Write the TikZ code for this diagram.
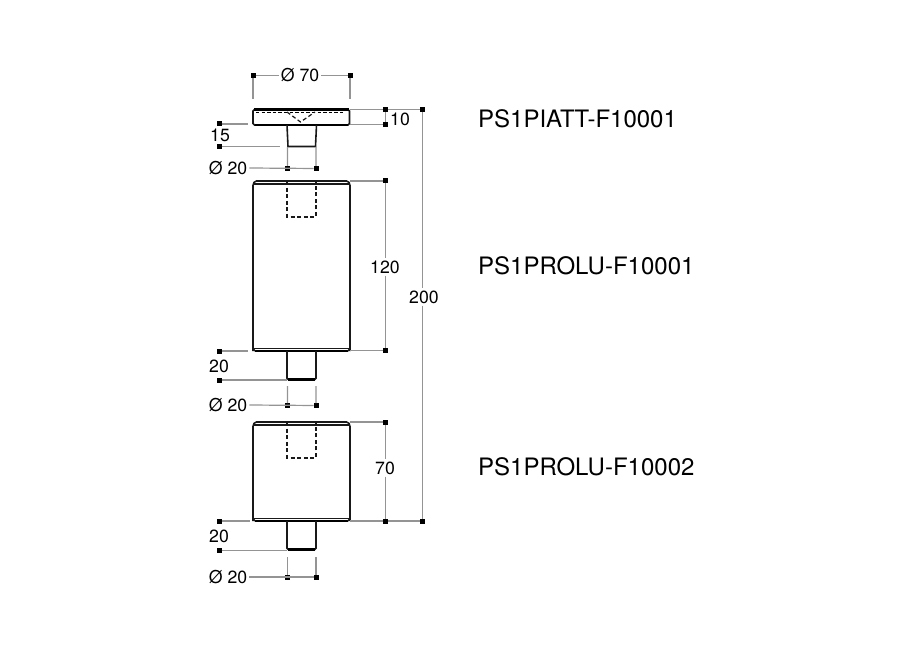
\documentclass[tikz,border=0pt]{standalone}
\usepackage{fontspec}
\setmainfont{TeX Gyre Heros}
\tikzset{
  dimdot/.style={fill=black,draw=none,minimum size=5pt,inner sep=0pt,outer sep=0pt,rectangle},
  dimline/.style={draw=black!42,line width=1.2pt},
  part/.style={draw=black!90,line width=1.6pt},
  heavy/.style={draw=black,line width=2.3pt},
  hidden/.style={draw=black!90,line width=1.2pt,dash pattern=on 4pt off 2.6pt},
  platehidden/.style={draw=black,line width=1.6pt,dash pattern=on 3.4pt off 2.2pt},
  dimtext/.style={font=\fontsize{17.7}{20}\selectfont,inner sep=2pt,text=black},
  codetext/.style={font=\fontsize{24}{26}\selectfont,anchor=west,inner sep=0pt,text=black}
}
\begin{document}
\begin{tikzpicture}[x=1pt,y=-1pt]
\useasboundingbox (0,0) rectangle (904,652);
% ---------- part codes
\node[codetext] (code1) at (478,118.5) {PS1PIATT-F10001};
\node[codetext] (code2) at (478,265.5) {PS1PROLU-F10001};
\node[codetext] (code3) at (478,467) {PS1PROLU-F10002};
% ---------- plate
\draw[part,rounded corners=1.5pt] (253,109.5) rectangle (349.5,125);
\draw[heavy] (254,109.5) -- (349,109.5);
\draw[heavy] (255,125) -- (348,125);
\draw[platehidden] (256,112.5) -- (345,112.5);
\draw[hidden] (287,112) -- (300.5,122) -- (315,112);
\draw[part] (287,125) -- (288,146.5) -- (315.5,146.5) -- (316.5,125);
% ---------- long body
\draw[part,rounded corners=1.5pt] (253,351) -- (253,184) -- (255,181) -- (348,181) -- (350,184) -- (350,351);
\draw[part] (253,184) -- (350,184);
\draw[hidden] (287,181) -- (287,217) -- (316,217) -- (316,181);
\draw[part] (253,348.5) -- (350,348.5);
\draw[heavy] (255,351) -- (348,351);
\draw[part] (253,348.5) -- (255,351);
\draw[part] (350,348.5) -- (348,351);
\draw[part,rounded corners=1.2pt] (287,351) -- (287,379.5) -- (316,379.5) -- (316,351);
\draw[heavy] (288,379.5) -- (315,379.5);
% ---------- short body
\draw[part,rounded corners=1.5pt] (253,521) -- (253,425) -- (255,422) -- (348,422) -- (350,425) -- (350,521);
\draw[part] (253,425) -- (350,425);
\draw[hidden] (287,422) -- (287,458) -- (316,458) -- (316,422);
\draw[part] (253,518.5) -- (350,518.5);
\draw[heavy] (255,521) -- (348,521);
\draw[part] (253,518.5) -- (255,521);
\draw[part] (350,518.5) -- (348,521);
\draw[part,rounded corners=1.2pt] (287,521) -- (287,549.5) -- (316,549.5) -- (316,521);
\draw[heavy] (288,549.5) -- (315,549.5);
% ---------- dimension labels
\node[dimtext] (t70) at (300,75.5) {Ø 70};
\node[dimtext] (t10) at (400,119) {10};
\node[dimtext] (t15) at (220,135.5) {15};
\node[dimtext] (t20a) at (228,168) {Ø 20};
\node[dimtext] (t120) at (385,267) {120};
\node[dimtext] (t200) at (424,297) {200};
\node[dimtext] (h20a) at (219,366) {20};
\node[dimtext] (t20b) at (228,405) {Ø 20};
\node[dimtext] (t70b) at (385,468) {70};
\node[dimtext] (h20b) at (219,536) {20};
\node[dimtext] (t20c) at (228,577) {Ø 20};
% ---------- dimension dots
\foreach \n/\x/\y in {a/253/75.5,b/350/75.5,c/385.5/109.5,d/385.5/124.5,e/422.5/109.5,
  f/219/124,g/219/146.5,h/287.5/168.5,i/316/168.5,
  j/385.5/181,k/385.5/350.5,l/219/351,m/219/380,n/287.5/405.5,o/316/405.5,
  p/385.5/422,q/385.5/521,r/422.5/521,s/219/521,t/219/550.5,u/287.5/577,v/316/577}
  {\node[dimdot] (\n) at (\x,\y) {};}
% ---------- free ends of the extension lines
\foreach \n/\x/\y in {a1/253/99,b1/350/99,c1/350/109.5,d1/350/124.5,
  f1/248/124,g1/280/146.5,h1/287.5/147,i1/316/147,
  j1/350/181,k1/350/350.5,l1/248/351,m1/287/380,n1/287.5/386,o1/316/386,
  p1/350/422,q1/350/521,s1/250/521,t1/287/550.5,u1/287.5/557,v1/316/557}
  {\coordinate (\n) at (\x,\y);}
% ---------- dimension lines
\draw[dimline] (a) -- (t70.west) (t70.east) -- (b);
\draw[dimline] (a) -- (a1) (b) -- (b1);
\draw[dimline] (c1) -- (c) (d1) -- (d) (c) -- (d);
\draw[dimline] (c) -- (e) (e) -- (e|-t200.north) (r|-t200.south) -- (r) -- (q);
\draw[dimline] (f) -- (f1) (g) -- (g1);
\draw[dimline] (t20a.east) -- (i) (h) -- (h1) (i) -- (i1);
\draw[dimline] (j1) -- (j) (j) -- (j|-t120.north) (k|-t120.south) -- (k) -- (k1);
\draw[dimline] (l) -- (l1) (m) -- (m1);
\draw[dimline] (t20b.east) -- (o) (n) -- (n1) (o) -- (o1);
\draw[dimline] (p1) -- (p) (p) -- (p|-t70b.north) (q|-t70b.south) -- (q) -- (q1);
\draw[dimline] (s) -- (s1) (t) -- (t1);
\draw[dimline] (t20c.east) -- (v) (u) -- (u1) (v) -- (v1);
\end{tikzpicture}
\end{document}
